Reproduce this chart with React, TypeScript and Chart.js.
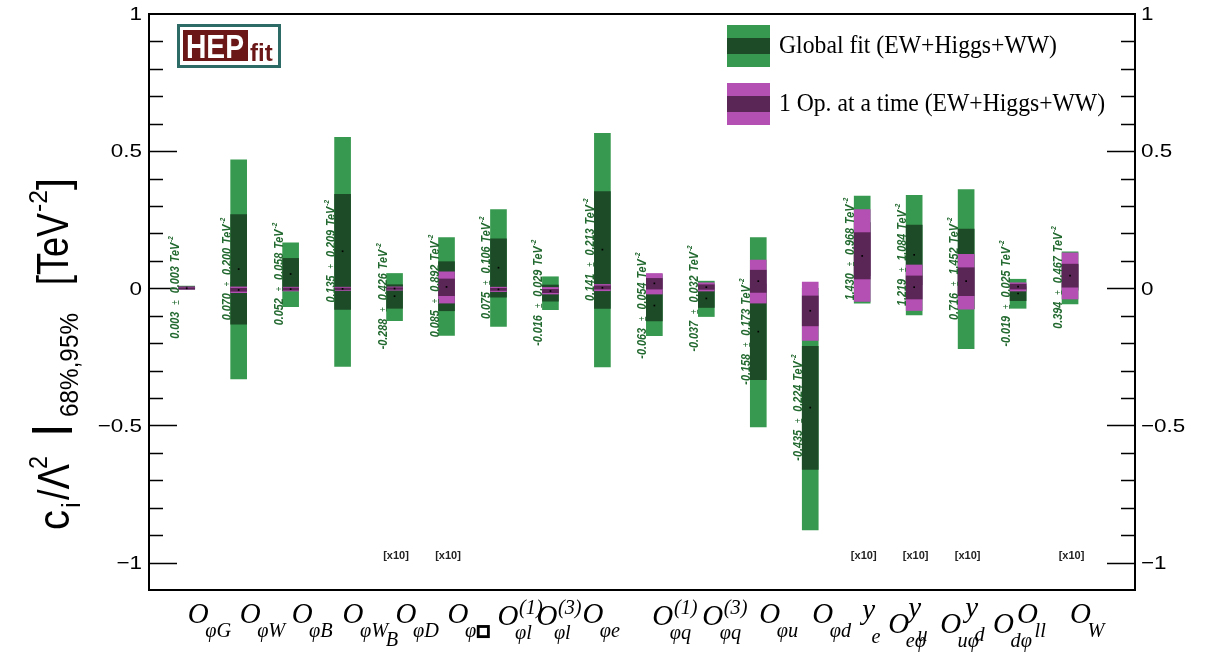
import React, { useEffect, useRef } from 'react';
import { Chart, registerables } from 'chart.js';
Chart.register(...registerables);

// ---------------- data ----------------
const operatorLabels = [
  'O_{φG}', 'O_{φW}', 'O_{φB}', 'O_{φW_{B}}', 'O_{φD}', 'O_{φ□}',
  'O^{(1)}_{φl}', 'O^{(3)}_{φl}', 'O_{φe}', 'O^{(1)}_{φq}', 'O^{(3)}_{φq}',
  'O_{φu}', 'O_{φd}', 'y_{e}', 'O_{eφ}|y_{u}', 'O_{uφ}|y_{d}', 'O_{dφ}|O_{ll}', 'O_{W}',
];
// printed global-fit results (mean ± error, in TeV^-2, as printed)
const fitMean = [0.003, 0.070, 0.052, 0.135, -0.288, 0.085, 0.075, -0.016, 0.141, -0.063, -0.037, -0.158, -0.435, 1.430, 1.219, 0.716, -0.019, 0.394];
const fitErr = [0.003, 0.200, 0.058, 0.209, 0.426, 0.892, 0.106, 0.029, 0.213, 0.054, 0.032, 0.173, 0.224, 0.968, 1.084, 1.452, 0.025, 0.467];
// plotted values are divided by this factor ([x10] marks)
const displayScale = [1, 1, 1, 1, 10, 10, 1, 1, 1, 1, 1, 1, 1, 10, 10, 10, 1, 10];

const global95Lo = [-0.005, -0.330, -0.067, -0.285, -0.118, -0.172, -0.139, -0.078, -0.287, -0.173, -0.103, -0.505, -0.881, -0.054, -0.097, -0.220, -0.073, -0.057];
const global95Hi = [0.008, 0.468, 0.166, 0.550, 0.054, 0.185, 0.287, 0.042, 0.565, 0.050, 0.026, 0.185, 0.000, 0.336, 0.339, 0.360, 0.033, 0.133];
const global68Lo = [-0.001, -0.131, -0.006, -0.077, -0.073, -0.082, -0.032, -0.047, -0.073, -0.119, -0.070, -0.333, -0.660, 0.046, 0.013, -0.074, -0.045, -0.007];
const global68Hi = [0.006, 0.269, 0.109, 0.343, 0.013, 0.097, 0.180, 0.012, 0.353, -0.008, -0.006, 0.015, -0.212, 0.240, 0.230, 0.216, 0.006, 0.086];

const single95Lo = [-0.004, -0.016, -0.010, -0.008, -0.007, -0.054, -0.012, -0.021, -0.009, -0.021, -0.010, -0.054, -0.190, -0.048, -0.081, -0.076, -0.010, -0.039];
const single95Hi = [0.005, 0.005, 0.004, 0.004, 0.005, 0.060, 0.004, 0.003, 0.014, 0.054, 0.020, 0.103, 0.023, 0.287, 0.085, 0.124, 0.020, 0.129];
const single68Lo = [-0.002, -0.011, -0.007, -0.005, -0.004, -0.027, -0.008, -0.016, -0.003, -0.003, -0.004, -0.015, -0.137, 0.034, -0.039, -0.027, -0.003, 0.004];
const single68Hi = [0.002, 0.000, 0.001, 0.001, 0.002, 0.034, 0.000, -0.004, 0.009, 0.036, 0.013, 0.066, -0.028, 0.203, 0.045, 0.075, 0.015, 0.088];
const singleMean = [0.000, -0.006, -0.003, -0.002, -0.001, 0.005, -0.004, -0.010, 0.002, 0.018, 0.004, 0.026, -0.082, 0.118, 0.004, 0.026, 0.006, 0.046];

const legendLabels = ['Global fit (EW+Higgs+WW)', '1 Op. at a time (EW+Higgs+WW)'];
const yTickValues = [-1, -0.5, 0, 0.5, 1];
const yTickLabels = ['\u22121', '\u22120.5', '0', '0.5', '1'];

// ---------------- style / layout ----------------
const C = {
  g95: '#37994f', g68: '#1d4b27', m95: '#b44fb3', m68: '#5a2656',
  text: '#22692f', teal: '#2d6b67', red: '#6b1717',
};
// per label part offsets (px) relative to the bar centre / label baseline
const xLabelLayout: { dx: number; dy: number }[][] = [
  [{ dx: 1, dy: 0 }], [{ dx: 1, dy: 0 }], [{ dx: 1, dy: 0 }], [{ dx: 0, dy: 0 }],
  [{ dx: 1, dy: 0 }], [{ dx: 1, dy: 0 }], [{ dx: -1, dy: 2 }], [{ dx: -14, dy: 2 }],
  [{ dx: -20, dy: 0 }], [{ dx: -2, dy: 2 }], [{ dx: -4, dy: 2 }], [{ dx: 1, dy: 0 }],
  [{ dx: 2, dy: 0 }], [{ dx: 0, dy: -4 }],
  [{ dx: -26, dy: 10 }, { dx: -6, dy: -6 }],
  [{ dx: -26, dy: 10 }, { dx: -1, dy: -6 }],
  [{ dx: -25, dy: 10 }, { dx: -1, dy: 0 }],
  [{ dx: 0, dy: 0 }],
];

type TexNode = { k: 't'; s: string } | { k: '_' | '^'; c: TexNode[] };
function parseTex(s: string): TexNode[] {
  let i = 0;
  function group(): TexNode[] {
    const out: TexNode[] = [];
    let buf = '';
    const flush = () => { if (buf) { out.push({ k: 't', s: buf }); buf = ''; } };
    while (i < s.length) {
      const ch = s[i];
      if (ch === '}') { i++; break; }
      if ((ch === '_' || ch === '^') && s[i + 1] === '{') {
        flush(); i += 2;
        out.push({ k: ch as '_' | '^', c: group() });
        continue;
      }
      buf += ch; i++;
    }
    flush();
    return out;
  }
  return group();
}

function drawTex(ctx: CanvasRenderingContext2D, nodes: TexNode[], x: number, base: number, size: number, depth: number): number {
  let cx = x;
  let last = '';
  for (let k = 0; k < nodes.length; k++) {
    const n = nodes[k];
    if (n.k === 't') {
      for (const ch of n.s) {
        if (ch === '\u25A1') {
          const b = size * 0.5;
          ctx.lineWidth = size * 0.14;
          ctx.strokeRect(cx + size * 0.1, base - b, b, b);
          cx += size * 0.7;
        } else {
          ctx.font = `italic ${size}px "Liberation Serif"`;
          ctx.fillText(ch, cx, base);
          cx += ctx.measureText(ch).width;
        }
        last = ch;
      }
    } else {
      const start = cx;
      let w = 0;
      while (k < nodes.length && nodes[k].k !== 't') {
        const g = nodes[k] as { k: '_' | '^'; c: TexNode[] };
        const ss = depth === 0 ? size * 0.7 : size;
        if (g.k === '_') {
          const sh = 'ygpqj'.includes(last) ? size * 0.82 : size * 0.47;
          const x0 = start - size * 0.12;
          const e = drawTex(ctx, g.c, x0, base + sh, ss, depth + 1);
          w = Math.max(w, x0 + e - start);
        } else {
          const x0 = start + size * 0.02;
          const e = drawTex(ctx, g.c, x0, base - size * 0.37, ss, depth + 1);
          w = Math.max(w, x0 + e - start);
        }
        k++;
      }
      k--;
      cx = start + w;
    }
  }
  return cx - x;
}

function rotText(ctx: CanvasRenderingContext2D, t: string, bx: number, sy: number, font: string, maxW?: number) {
  ctx.save();
  ctx.translate(bx, sy);
  ctx.rotate(-Math.PI / 2);
  ctx.font = font;
  ctx.textAlign = 'left';
  ctx.textBaseline = 'alphabetic';
  if (maxW) ctx.fillText(t, 0, 0, maxW); else ctx.fillText(t, 0, 0);
  ctx.restore();
}

const overlayPlugin = {
  id: 'rootOverlay',
  afterDraw(chart: any) {
    const { ctx, chartArea: a, scales } = chart;
    const xs = scales.x, ys = scales.y;
    ctx.save();
    ctx.fillStyle = '#000';
    ctx.strokeStyle = '#000';

    // frame
    ctx.lineWidth = 2;
    ctx.strokeRect(a.left, a.top, a.right - a.left, a.bottom - a.top);

    // y ticks (both sides, inward)
    ctx.lineWidth = 1.6;
    for (let k = -10; k <= 9; k++) {
      const v = k / 10;
      const py = Math.round(ys.getPixelForValue(v)) + 0.5;
      const len = k % 5 === 0 ? 28 : 14;
      ctx.beginPath();
      ctx.moveTo(a.left, py); ctx.lineTo(a.left + len, py);
      ctx.moveTo(a.right, py); ctx.lineTo(a.right - len, py);
      ctx.stroke();
    }

    // y tick labels
    ctx.textBaseline = 'middle';
    yTickValues.forEach((v, i) => {
      const py = ys.getPixelForValue(v) + 1;
      ctx.font = '19px "Liberation Sans"';
      ctx.save(); ctx.translate(a.left - 7, py); ctx.scale(1.18, 1);
      ctx.textAlign = 'right'; ctx.fillText(yTickLabels[i], 0, 0); ctx.restore();
      ctx.save(); ctx.translate(a.right + 6, py); ctx.scale(1.18, 1);
      ctx.textAlign = 'left'; ctx.fillText(yTickLabels[i], 0, 0); ctx.restore();
    });

    // y-axis title
    ctx.fillStyle = '#000';
    rotText(ctx, 'c', 69, 530, '44px "Liberation Sans"', 20);
    rotText(ctx, 'i', 80, 508, '26px "Liberation Sans"');
    rotText(ctx, '/\u039B', 69, 500, '44px "Liberation Sans"', 36);
    rotText(ctx, '2', 47, 469, '26px "Liberation Sans"', 13);
    ctx.fillRect(32, 428, 40, 4.5);
    rotText(ctx, '68%,95%', 78, 417, '25px "Liberation Sans"', 104);
    rotText(ctx, '[TeV', 68, 285, '44px "Liberation Sans"', 72);
    rotText(ctx, '-2', 47, 212, '26px "Liberation Sans"', 22);
    rotText(ctx, ']', 68, 190, '44px "Liberation Sans"', 12);

    // x labels
    ctx.textAlign = 'left';
    ctx.textBaseline = 'alphabetic';
    ctx.fillStyle = '#000';
    ctx.strokeStyle = '#000';
    const labelBase = a.bottom + 33;
    operatorLabels.forEach((lab, i) => {
      const cx = xs.getPixelForValue(i);
      lab.split('|').forEach((part, j) => {
        const lay = xLabelLayout[i][j] || { dx: 0, dy: 0 };
        drawTex(ctx, parseTex(part), cx + lay.dx, labelBase + lay.dy, 29, 0);
      });
    });

    // annotation texts (rotated, narrow bold italic)
    const mainFont = 'italic bold 13.5px "Liberation Sans"';
    const squeeze = 0.8;
    operatorLabels.forEach((_, i) => {
      const cx = xs.getPixelForValue(i);
      const cy = ys.getPixelForValue(fitMean[i] / displayScale[i]);
      const parts = [
        { t: fitMean[i].toFixed(3), f: mainFont, dy: 0, gap: 7 },
        { t: '\u00B1', f: '10px "Liberation Sans"', dy: 0, gap: 7 },
        { t: fitErr[i].toFixed(3), f: mainFont, dy: 0, gap: 4 },
        { t: 'TeV', f: mainFont, dy: 0, gap: 1 },
        { t: '-2', f: 'italic bold 8px "Liberation Sans"', dy: -6, gap: 0 },
      ];
      let total = 0;
      parts.forEach((p) => { ctx.font = p.f; total += ctx.measureText(p.t).width * squeeze + p.gap; });
      ctx.save();
      ctx.translate(cx - 8, cy);
      ctx.rotate(-Math.PI / 2);
      ctx.fillStyle = C.text;
      let u = -total / 2;
      parts.forEach((p) => {
        ctx.font = p.f;
        ctx.save();
        ctx.translate(u, p.dy);
        ctx.scale(squeeze, 1);
        ctx.fillText(p.t, 0, 0);
        ctx.restore();
        u += ctx.measureText(p.t).width * squeeze + p.gap;
      });
      ctx.restore();
    });

    // [x10] marks
    ctx.fillStyle = '#222';
    ctx.font = 'bold 11px "Liberation Sans"';
    ctx.textAlign = 'center';
    ctx.textBaseline = 'middle';
    displayScale.forEach((s, i) => {
      if (s !== 1) ctx.fillText(`[x${s}]`, xs.getPixelForValue(i) + 1.5, ys.getPixelForValue(-0.975));
    });

    // legend
    const drawBox = (top: number, light: string, dark: string) => {
      ctx.fillStyle = light; ctx.fillRect(727, top, 43, 42);
      ctx.fillStyle = dark; ctx.fillRect(727, top + 13, 43, 16);
    };
    drawBox(25, C.g95, C.g68);
    drawBox(83, C.m95, C.m68);
    ctx.fillStyle = '#000';
    ctx.textAlign = 'left';
    ctx.textBaseline = 'alphabetic';
    ctx.font = '26px "Liberation Serif"';
    ctx.fillText(legendLabels[0], 779, 53, 278);
    ctx.fillText(legendLabels[1], 779, 111, 326);

    // HEPfit logo
    ctx.fillStyle = '#fff';
    ctx.fillRect(178, 25, 102, 42);
    ctx.strokeStyle = C.teal;
    ctx.lineWidth = 3;
    ctx.strokeRect(178.5, 25.5, 101, 41);
    ctx.fillStyle = C.red;
    ctx.fillRect(183, 30, 65, 31);
    ctx.fillStyle = '#fff';
    ctx.font = 'bold 34px "Liberation Sans"';
    ctx.fillText('HEP', 186, 58, 58);
    ctx.fillStyle = C.red;
    ctx.font = 'bold 24px "Liberation Sans"';
    ctx.fillText('fit', 250, 61, 26);

    ctx.restore();
  },
};

export default function App() {
  const ref = useRef<HTMLCanvasElement | null>(null);
  useEffect(() => {
    document.body.style.margin = '0';
    const canvas = ref.current;
    if (!canvas) return;
    const idx = operatorLabels.map((_, i) => i);
    const bar = (lo: number[], hi: number[], color: string, order: number, label: string) => ({
      type: 'bar' as const,
      label,
      data: idx.map((i) => ({ x: i, y: [lo[i], hi[i]] })),
      backgroundColor: color,
      borderWidth: 0,
      barThickness: 16,
      grouped: false,
      order,
    });
    const dots = (vals: number[], order: number) => ({
      type: 'scatter' as const,
      data: idx.map((i) => ({ x: i, y: vals[i] })),
      backgroundColor: '#000',
      borderWidth: 0,
      pointRadius: 1.2,
      pointStyle: 'rect',
      order,
    });
    const chart = new Chart(canvas, {
      type: 'bar',
      data: {
        datasets: [
          bar(global95Lo, global95Hi, C.g95, 6, legendLabels[0] + ' 95%'),
          bar(global68Lo, global68Hi, C.g68, 5, legendLabels[0] + ' 68%'),
          dots(fitMean.map((m, i) => m / displayScale[i]), 4),
          bar(single95Lo, single95Hi, C.m95, 3, legendLabels[1] + ' 95%'),
          bar(single68Lo, single68Hi, C.m68, 2, legendLabels[1] + ' 68%'),
          dots(singleMean, 1),
        ] as any,
      },
      options: {
        responsive: false,
        animation: false,
        events: [],
        layout: { padding: { left: 149, right: 77, top: 14, bottom: 62 } },
        plugins: { legend: { display: false }, tooltip: { enabled: false } },
        scales: {
          x: { type: 'linear', min: -0.7256, max: 18.25, display: false, offset: false },
          y: { type: 'linear', min: -1.1, max: 1.0, display: false },
        },
      } as any,
      plugins: [overlayPlugin],
    });
    return () => chart.destroy();
  }, []);
  return (
    <div style={{ width: 1212, height: 652, background: '#fff' }}>
      <canvas ref={ref} width={1212} height={652} style={{ display: 'block' }} />
    </div>
  );
}
